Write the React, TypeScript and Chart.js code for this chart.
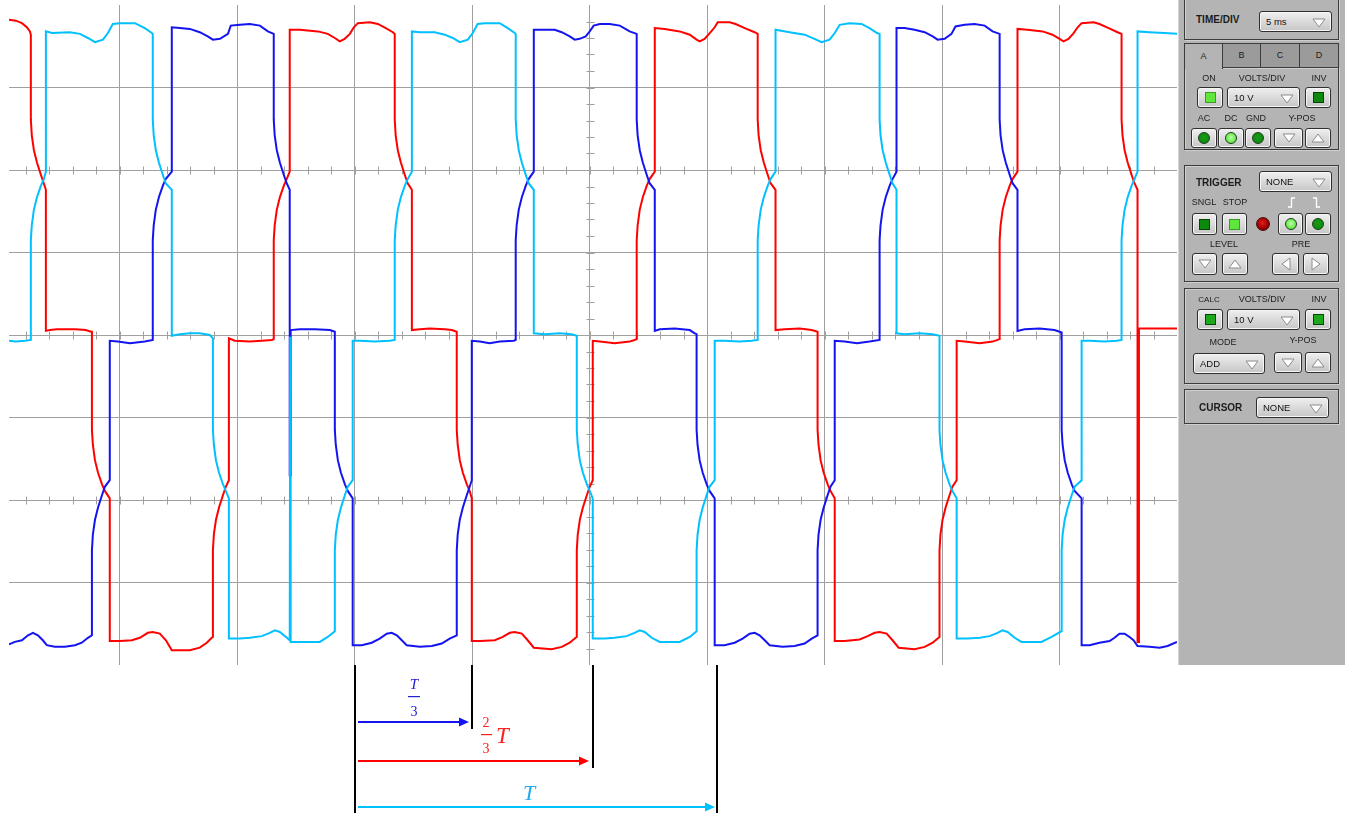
import React, { useEffect, useRef } from "react";
import { Chart, registerables } from "chart.js";

Chart.register(...registerables);

// ---------- data (time in ms, voltage in V; 5 ms/div, 10 V/div) ----------
const timeGrid = [5, 10, 15, 20, 25, 30, 35, 40, 45];
const voltGrid = [-30, -20, -10, 0, 10, 20, 30];
const tickedRows = [20, 0, -20];
const markerTimes = [15.0, 20.0, 25.15, 30.4];

const redPhase: [number, number][] = [
  [0.28, 38.2], [0.57, 38.1], [0.83, 37.8], [1.04, 37.3], [1.17, 36.8], [1.21, 36.4],
  [1.21, 26.1], [1.25, 24.2], [1.34, 22.4], [1.47, 20.9], [1.64, 19.4], [1.76, 18.4], [1.85, 17.6], [1.85, 0.5],
  [2.02, 0.6], [2.32, 0.7], [3.09, 0.7], [3.55, 0.6], [3.77, 0.4], [3.81, 0.4],
  [3.81, -11.5], [3.85, -13.3], [3.94, -15.2], [4.07, -16.7], [4.24, -18.1], [4.36, -18.9], [4.57, -19.8], [4.57, -37.1],
  [5.0, -37.1], [5.51, -37.0], [5.85, -36.7], [6.19, -36.1], [6.4, -36.0], [6.7, -36.2], [6.96, -37.0], [7.21, -38.2], [7.98, -38.2], [8.4, -37.9], [8.7, -37.3], [8.91, -36.7], [8.96, -36.6],
  [8.96, -26.1], [9.0, -24.2], [9.09, -22.4], [9.22, -20.9], [9.39, -19.4], [9.51, -18.4], [9.64, -17.6], [9.64, -0.4],
  [9.89, -0.7], [10.53, -0.8], [11.04, -0.7], [11.47, -0.6], [11.55, -0.5],
  [11.55, 11.5], [11.59, 13.3], [11.68, 15.2], [11.81, 16.7], [11.98, 18.1], [12.1, 18.9], [12.23, 19.8], [12.23, 37.0],
  [12.66, 37.0], [13.43, 36.8], [13.85, 36.5], [14.15, 36.0], [14.36, 35.6], [14.57, 35.9], [14.79, 36.5], [14.96, 37.3], [15.13, 37.8], [15.64, 37.9], [15.98, 37.7], [16.32, 37.2], [16.62, 36.7], [16.7, 36.5],
  [16.7, 26.1], [16.74, 24.2], [16.83, 22.4], [16.96, 20.9], [17.13, 19.4], [17.25, 18.4], [17.43, 17.6], [17.43, 0.6],
  [17.77, 0.7], [18.19, 0.8], [18.83, 0.7], [19.13, 0.6], [19.34, 0.4],
  [19.34, -11.5], [19.38, -13.3], [19.47, -15.2], [19.6, -16.7], [19.77, -18.1], [19.89, -18.9], [19.98, -19.8], [19.98, -37.1],
  [20.32, -37.1], [20.96, -37.0], [21.3, -36.6], [21.6, -36.1], [21.81, -36.0], [22.11, -36.2], [22.36, -37.0], [22.62, -37.9], [23.38, -38.1], [23.81, -37.8], [24.15, -37.3], [24.4, -36.7], [24.45, -36.6],
  [24.45, -26.1], [24.49, -24.2], [24.58, -22.4], [24.71, -20.9], [24.88, -19.4], [25.0, -18.4], [25.13, -17.6], [25.13, -0.7],
  [25.43, -0.8], [26.06, -1.0], [26.7, -0.8], [26.91, -0.6], [27.0, -0.5],
  [27.0, 11.5], [27.04, 13.3], [27.13, 15.2], [27.26, 16.7], [27.43, 18.1], [27.55, 18.9], [27.77, 19.8], [27.77, 37.2],
  [28.19, 37.1], [28.83, 36.8], [29.26, 36.4], [29.55, 35.8], [29.68, 35.6], [29.89, 35.9], [30.11, 36.6], [30.32, 37.3], [30.45, 37.9], [30.96, 37.9], [31.21, 37.7], [31.6, 37.2], [32.02, 36.7], [32.15, 36.5],
  [32.15, 26.1], [32.19, 24.2], [32.28, 22.4], [32.41, 20.9], [32.58, 19.4], [32.7, 18.4], [32.91, 17.6], [32.91, 0.6],
  [33.3, 0.7], [33.94, 0.8], [34.45, 0.6], [34.7, 0.4],
  [34.7, -11.5], [34.74, -13.3], [34.83, -15.2], [34.96, -16.7], [35.13, -18.1], [35.25, -18.9], [35.43, -19.8], [35.43, -37.1],
  [35.85, -37.1], [36.49, -36.9], [36.83, -36.5], [37.13, -36.1], [37.34, -36.0], [37.64, -36.2], [37.89, -37.0], [38.15, -37.9], [38.83, -38.1], [39.26, -37.8], [39.6, -37.3], [39.85, -36.7], [39.89, -36.6],
  [39.89, -26.1], [39.93, -24.2], [40.02, -22.4], [40.15, -20.9], [40.32, -19.4], [40.44, -18.4], [40.62, -17.6], [40.62, -0.7],
  [40.96, -0.8], [41.6, -1.0], [42.15, -0.8], [42.45, -0.5],
  [42.45, 11.5], [42.49, 13.3], [42.58, 15.2], [42.71, 16.7], [42.88, 18.1], [43.0, 18.9], [43.21, 19.8], [43.21, 37.1],
  [43.64, 37.0], [44.28, 36.8], [44.7, 36.4], [45.0, 35.9], [45.17, 35.6], [45.38, 35.9], [45.6, 36.6], [45.77, 37.3], [45.94, 37.8], [46.45, 37.9], [46.7, 37.7], [47.09, 37.2], [47.47, 36.7], [47.64, 36.5],
  [47.64, 26.1], [47.68, 24.2], [47.77, 22.4], [47.9, 20.9], [48.07, 19.4], [48.19, 18.4], [48.32, 17.6], [48.32, -37.2], [48.38, -37.2], [48.38, 0.8],
  [48.83, 0.8], [49.47, 0.8], [50.0, 0.8],
];

const cyanPhase: [number, number][] = [
  [0.28, -0.7], [0.57, -0.8], [0.96, -0.7], [1.21, -0.6],
  [1.21, 11.5], [1.25, 13.3], [1.34, 15.2], [1.47, 16.7], [1.64, 18.1], [1.76, 18.9], [1.85, 19.8], [1.85, 36.8],
  [2.11, 36.6], [2.87, 36.7], [3.3, 36.5], [3.64, 36.0], [3.94, 35.5], [4.28, 35.8], [4.49, 36.6], [4.7, 37.7], [5.0, 37.8], [5.64, 37.8], [6.06, 37.2], [6.36, 36.6], [6.4, 36.5],
  [6.4, 26.1], [6.44, 24.2], [6.53, 22.4], [6.66, 20.9], [6.83, 19.4], [6.95, 18.4], [7.21, 17.6], [7.21, -0.1],
  [7.55, 0.1], [7.98, 0.2], [8.4, 0.2], [8.83, 0.0], [8.96, -0.4],
  [8.96, -11.5], [9.0, -13.3], [9.09, -15.2], [9.22, -16.7], [9.39, -18.1], [9.51, -18.9], [9.64, -19.8], [9.64, -36.8],
  [10.11, -36.8], [10.53, -36.7], [11.04, -36.5], [11.38, -36.1], [11.6, -35.8], [11.81, -36.0], [12.11, -36.7], [12.23, -37.0], [12.25, -0.2], [12.27, -37.2],
  [12.66, -37.2], [13.51, -37.2], [13.85, -36.6], [14.15, -35.9],
  [14.15, -26.1], [14.19, -24.2], [14.28, -22.4], [14.41, -20.9], [14.58, -19.4], [14.7, -18.4], [14.91, -17.6], [14.91, -0.7],
  [15.21, -0.7], [15.85, -0.8], [16.49, -0.7], [16.7, -0.6],
  [16.7, 11.5], [16.74, 13.3], [16.83, 15.2], [16.96, 16.7], [17.13, 18.1], [17.25, 18.9], [17.43, 19.8], [17.43, 36.8],
  [17.77, 36.7], [18.4, 36.7], [18.83, 36.4], [19.17, 36.0], [19.47, 35.5], [19.81, 35.8], [20.02, 36.6], [20.23, 37.7], [20.53, 37.8], [21.17, 37.8], [21.51, 37.2], [21.81, 36.6], [21.85, 36.5],
  [21.85, 26.1], [21.89, 24.2], [21.98, 22.4], [22.11, 20.9], [22.28, 19.4], [22.4, 18.4], [22.62, 17.6], [22.62, 0.2],
  [23.09, 0.1], [23.72, 0.2], [24.23, 0.1], [24.45, -0.1],
  [24.45, -11.5], [24.49, -13.3], [24.58, -15.2], [24.71, -16.7], [24.88, -18.1], [25.0, -18.9], [25.13, -19.8], [25.13, -36.8],
  [25.64, -36.8], [26.06, -36.7], [26.57, -36.5], [26.91, -36.1], [27.13, -35.8], [27.34, -36.0], [27.64, -36.7], [27.98, -37.2], [28.83, -37.2], [29.26, -36.6], [29.55, -35.9],
  [29.55, -26.1], [29.59, -24.2], [29.68, -22.4], [29.81, -20.9], [29.98, -19.4], [30.1, -18.4], [30.32, -17.6], [30.32, -0.7],
  [30.74, -0.7], [31.38, -0.8], [31.89, -0.7], [32.15, -0.6],
  [32.15, 11.5], [32.19, 13.3], [32.28, 15.2], [32.41, 16.7], [32.58, 18.1], [32.7, 18.9], [32.91, 19.8], [32.91, 37.0],
  [33.51, 36.7], [34.15, 36.4], [34.57, 35.9], [34.87, 35.5], [35.21, 35.8], [35.43, 36.6], [35.64, 37.6], [36.06, 37.8], [36.57, 37.7], [36.91, 37.2], [37.23, 36.6], [37.34, 36.5],
  [37.34, 26.1], [37.38, 24.2], [37.47, 22.4], [37.6, 20.9], [37.77, 19.4], [37.89, 18.4], [38.06, 17.6], [38.06, 0.2],
  [38.4, 0.1], [39.04, 0.2], [39.6, 0.1], [39.89, -0.1],
  [39.89, -11.5], [39.93, -13.3], [40.02, -15.2], [40.15, -16.7], [40.32, -18.1], [40.44, -18.9], [40.62, -19.8], [40.62, -36.8],
  [41.09, -36.8], [41.6, -36.7], [42.02, -36.5], [42.36, -36.1], [42.57, -35.8], [42.79, -36.0], [43.09, -36.7], [43.38, -37.2], [44.23, -37.2], [44.66, -36.6], [45.09, -35.9],
  [45.09, -26.1], [45.13, -24.2], [45.22, -22.4], [45.35, -20.9], [45.52, -19.4], [45.64, -18.4], [45.94, -17.6], [45.94, -0.7],
  [46.28, -0.7], [46.91, -0.8], [47.43, -0.7], [47.64, -0.6],
  [47.64, 11.5], [47.68, 13.3], [47.77, 15.2], [47.9, 16.7], [48.07, 18.1], [48.19, 18.9], [48.32, 19.8], [48.32, 36.8],
  [48.83, 36.7], [49.47, 36.6], [50.0, 36.5],
];

const bluePhase: [number, number][] = [
  [0.28, -37.5], [0.53, -37.2], [0.83, -37.0], [1.09, -36.4], [1.3, -36.1], [1.51, -36.4], [1.72, -37.0], [1.89, -37.6], [2.23, -37.8], [2.66, -37.8], [3.09, -37.6], [3.38, -37.3], [3.64, -36.7], [3.81, -36.4],
  [3.81, -26.1], [3.85, -24.2], [3.94, -22.4], [4.07, -20.9], [4.24, -19.4], [4.36, -18.4], [4.57, -17.6], [4.57, -0.7],
  [4.91, -0.8], [5.43, -1.0], [6.06, -0.8], [6.4, -0.6],
  [6.4, 11.5], [6.44, 13.3], [6.53, 15.2], [6.66, 16.7], [6.83, 18.1], [6.95, 18.9], [7.21, 19.8], [7.21, 37.3],
  [7.55, 37.2], [7.98, 37.1], [8.4, 36.7], [8.74, 36.2], [8.96, 35.8], [9.26, 35.9], [9.6, 36.5], [9.72, 37.5], [10.11, 37.6], [10.53, 37.7], [10.96, 37.5], [11.3, 36.8], [11.55, 36.5],
  [11.55, 26.1], [11.59, 24.2], [11.68, 22.4], [11.81, 20.9], [11.98, 19.4], [12.1, 18.4], [12.23, 17.6], [12.23, -17.0], [12.27, -17.0], [12.27, 0.6],
  [12.66, 0.7], [13.3, 0.7], [13.94, 0.6], [14.15, 0.4],
  [14.15, -11.5], [14.19, -13.3], [14.28, -15.2], [14.41, -16.7], [14.58, -18.1], [14.7, -18.9], [14.91, -19.8], [14.91, -37.6],
  [15.3, -37.6], [15.72, -37.3], [16.06, -36.8], [16.36, -36.2], [16.57, -36.1], [16.79, -36.4], [17.0, -37.0], [17.21, -37.6], [17.77, -37.8], [18.28, -37.7], [18.7, -37.4], [19.04, -36.8], [19.34, -36.4],
  [19.34, -26.1], [19.38, -24.2], [19.47, -22.4], [19.6, -20.9], [19.77, -19.4], [19.89, -18.4], [19.98, -17.6], [19.98, -0.7],
  [20.32, -0.8], [20.74, -1.0], [21.17, -0.8], [21.77, -0.7], [21.85, -0.6],
  [21.85, 11.5], [21.89, 13.3], [21.98, 15.2], [22.11, 16.7], [22.28, 18.1], [22.4, 18.9], [22.62, 19.8], [22.62, 37.0],
  [23.51, 37.0], [23.81, 36.7], [24.15, 36.2], [24.36, 35.8], [24.57, 35.9], [24.83, 36.2], [25.0, 36.8], [25.17, 37.5], [25.43, 37.7], [25.85, 37.7], [26.28, 37.5], [26.7, 36.8], [27.0, 36.5],
  [27.0, 26.1], [27.04, 24.2], [27.13, 22.4], [27.26, 20.9], [27.43, 19.4], [27.55, 18.4], [27.77, 17.6], [27.77, 0.5],
  [27.98, 0.7], [28.62, 0.8], [29.26, 0.6], [29.47, 0.2], [29.55, 0.1],
  [29.55, -11.5], [29.59, -13.3], [29.68, -15.2], [29.81, -16.7], [29.98, -18.1], [30.1, -18.9], [30.32, -19.8], [30.32, -37.6],
  [30.74, -37.6], [31.17, -37.3], [31.51, -36.8], [31.81, -36.2], [32.02, -36.1], [32.23, -36.4], [32.45, -37.0], [32.66, -37.6], [33.21, -37.8], [33.72, -37.7], [34.15, -37.4], [34.45, -36.8], [34.7, -36.4],
  [34.7, -26.1], [34.74, -24.2], [34.83, -22.4], [34.96, -20.9], [35.13, -19.4], [35.25, -18.4], [35.43, -17.6], [35.43, -0.7],
  [35.85, -0.8], [36.38, -1.0], [36.91, -0.8], [37.34, -0.6],
  [37.34, 11.5], [37.38, 13.3], [37.47, 15.2], [37.6, 16.7], [37.77, 18.1], [37.89, 18.9], [38.06, 19.8], [38.06, 37.2],
  [38.4, 37.2], [38.83, 37.0], [39.26, 36.7], [39.6, 36.2], [39.81, 35.8], [40.11, 35.9], [40.4, 36.5], [40.57, 37.4], [40.96, 37.6], [41.38, 37.7], [41.81, 37.5], [42.15, 36.8], [42.45, 36.5],
  [42.45, 26.1], [42.49, 24.2], [42.58, 22.4], [42.71, 20.9], [42.88, 19.4], [43.0, 18.4], [43.21, 17.6], [43.21, 0.5],
  [43.51, 0.7], [44.15, 0.8], [44.79, 0.6], [45.09, 0.3],
  [45.09, -11.5], [45.13, -13.3], [45.22, -15.2], [45.35, -16.7], [45.52, -18.1], [45.64, -18.9], [45.94, -19.8], [45.94, -37.6],
  [46.28, -37.6], [46.7, -37.3], [47.13, -37.1], [47.34, -36.7], [47.55, -36.2], [47.77, -36.2], [47.98, -36.6], [48.15, -37.0], [48.32, -37.7], [48.83, -37.8], [49.26, -37.9], [49.6, -37.7], [50.0, -37.2],
];

// ---------- styles ----------
const RED = "#ff0000";
const BLUE = "#1414f0";
const CYAN = "#00c0ff";
const GRID = "#a0a0a0";

const scopeTicks = {
  id: "scopeTicks",
  beforeDatasetsDraw(chart: any) {
    const { ctx, scales, chartArea } = chart;
    const x = scales.x;
    const y = scales.y;
    ctx.save();
    ctx.strokeStyle = GRID;
    ctx.lineWidth = 1;
    ctx.beginPath();
    for (const lv of tickedRows) {
      const py = Math.round(y.getPixelForValue(lv)) + 0.5;
      for (let t = 1; t < 50; t++) {
        const px = Math.round(x.getPixelForValue(t)) + 0.5;
        if (px <= chartArea.left || px >= chartArea.right) continue;
        ctx.moveTo(px, py - 4);
        ctx.lineTo(px, py + 4);
      }
    }
    const cx = Math.round(x.getPixelForValue(25)) + 0.5;
    for (let v = -38; v <= 38; v += 2) {
      const py = Math.round(y.getPixelForValue(v)) + 0.5;
      ctx.moveTo(cx - 4, py);
      ctx.lineTo(cx + 4, py);
    }
    ctx.stroke();
    ctx.restore();
  },
};

function arrow(ctx: CanvasRenderingContext2D, x0: number, x1: number, y: number, color: string) {
  ctx.strokeStyle = color;
  ctx.fillStyle = color;
  ctx.lineWidth = 2;
  ctx.beginPath();
  ctx.moveTo(x0, y);
  ctx.lineTo(x1 - 8, y);
  ctx.stroke();
  ctx.beginPath();
  ctx.moveTo(x1, y);
  ctx.lineTo(x1 - 10, y - 4.5);
  ctx.lineTo(x1 - 10, y + 4.5);
  ctx.closePath();
  ctx.fill();
}

const annotate = {
  id: "annotate",
  afterDraw(chart: any) {
    const { ctx, scales } = chart;
    const x = scales.x;
    const px = markerTimes.map((t) => Math.round(x.getPixelForValue(t)));
    const ends = [813, 729, 768, 813];
    ctx.save();
    ctx.strokeStyle = "#000";
    ctx.lineWidth = 2;
    px.forEach((p, i) => {
      ctx.beginPath();
      ctx.moveTo(p, 665);
      ctx.lineTo(p, ends[i]);
      ctx.stroke();
    });
    arrow(ctx, px[0] + 3, px[1] - 3, 722, BLUE);
    arrow(ctx, px[0] + 3, px[2] - 4, 761, RED);
    arrow(ctx, px[0] + 3, px[3] - 2, 807, CYAN);

    const serif = '"Liberation Serif", "DejaVu Serif", serif';
    ctx.textAlign = "center";
    ctx.textBaseline = "alphabetic";
    // T/3
    ctx.fillStyle = "#2020d8";
    ctx.font = `italic 15px ${serif}`;
    ctx.fillText("T", px[0] + 59, 689);
    ctx.fillRect(px[0] + 53, 696, 12, 1.2);
    ctx.font = `14px ${serif}`;
    ctx.fillText("3", px[0] + 59, 716);
    // 2/3 T
    ctx.fillStyle = "#ff2020";
    ctx.font = `14px ${serif}`;
    ctx.fillText("2", px[0] + 131, 727);
    ctx.fillRect(px[0] + 126, 734, 11, 1.2);
    ctx.fillText("3", px[0] + 131, 753);
    ctx.font = `italic 23px ${serif}`;
    ctx.textAlign = "left";
    ctx.fillText("T", px[0] + 141, 743);
    // T
    ctx.fillStyle = "#1eaaf0";
    ctx.textAlign = "center";
    ctx.font = `italic 22px ${serif}`;
    ctx.fillText("T", px[0] + 174, 800);
    ctx.restore();
  },
};

// ---------- panel widgets ----------
const FONT = '"Liberation Sans", Arial, sans-serif';

const box = (l: number, t: number, w: number, h: number, extra: React.CSSProperties = {}): React.CSSProperties => ({
  position: "absolute",
  left: l,
  top: t,
  width: w,
  height: h,
  boxSizing: "border-box",
  ...extra,
});

const groupStyle: React.CSSProperties = {
  border: "1px solid #3c3c3c",
  boxShadow: "inset 1px 1px 0 #cfcfcf, 1px 1px 0 #cfcfcf",
};

const btnStyle: React.CSSProperties = {
  background: "linear-gradient(#efefef, #c6c6c6)",
  border: "1px solid #2f2f2f",
  borderRadius: 3,
  boxShadow: "inset 0 0 0 1px #f6f6f6",
  display: "flex",
  alignItems: "center",
  justifyContent: "center",
};

function Btn({ l, t, w, h, children }: { l: number; t: number; w: number; h: number; children?: React.ReactNode }) {
  return <div style={box(l, t, w, h, btnStyle)}>{children}</div>;
}

function Sq({ c, b }: { c: string; b: string }) {
  return <div style={{ width: 11, height: 11, background: c, border: `1px solid ${b}`, boxSizing: "border-box" }} />;
}

function Led({ c, hi }: { c: string; hi: string }) {
  return (
    <div
      style={{
        width: 12,
        height: 12,
        borderRadius: "50%",
        background: `radial-gradient(circle at 50% 45%, ${hi} 0%, ${c} 75%)`,
        border: "1px solid #1d3d1d",
        boxSizing: "border-box",
      }}
    />
  );
}

function Tri({ dir }: { dir: "up" | "down" | "left" | "right" }) {
  const pts =
    dir === "down" ? "1,1 13,1 7,9" : dir === "up" ? "1,9 13,9 7,1" : dir === "left" ? "9,1 9,13 1,7" : "1,1 1,13 9,7";
  const w = dir === "up" || dir === "down" ? 14 : 10;
  const h = dir === "up" || dir === "down" ? 10 : 14;
  return (
    <svg width={w} height={h} style={{ display: "block" }}>
      <polygon points={pts} fill="#ffffff" stroke="#8c8c8c" strokeWidth="1" />
    </svg>
  );
}

function Drop({ l, t, w, h, text }: { l: number; t: number; w: number; h: number; text: string }) {
  return (
    <div
      style={box(l, t, w, h, {
        ...btnStyle,
        justifyContent: "flex-start",
        paddingLeft: 6,
        font: `9.5px ${FONT}`,
        color: "#111",
      })}
    >
      {text}
      <div style={{ position: "absolute", right: 5, top: (h - 10) / 2 }}>
        <Tri dir="down" />
      </div>
    </div>
  );
}

function Lbl({ cx, cy, text, size = 9, bold = false, left = false }: { cx: number; cy: number; text: string; size?: number; bold?: boolean; left?: boolean }) {
  return (
    <div
      style={{
        position: "absolute",
        left: left ? cx : cx - 40,
        width: left ? 100 : 80,
        top: cy - size * 0.62,
        textAlign: left ? "left" : "center",
        font: `${bold ? "bold " : ""}${size}px ${FONT}`,
        color: "#1c1c1c",
        lineHeight: `${size * 1.2}px`,
        whiteSpace: "nowrap",
      }}
    >
      {text}
    </div>
  );
}

function Edge({ rising }: { rising: boolean }) {
  return (
    <svg width={9} height={11} style={{ display: "block" }}>
      <path d={rising ? "M1 10 H4.5 V1 H8" : "M1 1 H4.5 V10 H8"} stroke="#ffffff" strokeWidth="1.3" fill="none" />
    </svg>
  );
}

const BRIGHT = "#5fe63c";
const BRIGHT_B = "#3a9a2a";
const DARK = "#0d8a0d";
const DARK_B = "#074407";
const MID = "#1ba81b";

function Panel() {
  const tab = (l: number, w: number, label: string, active: boolean) => (
    <div
      style={box(l, 43, w, active ? 26 : 25, {
        background: active ? "#b4b4b4" : "#9b9b9b",
        border: "1px solid #3c3c3c",
        borderBottom: active ? "none" : "1px solid #3c3c3c",
        font: `9px ${FONT}`,
        color: "#1c1c1c",
        display: "flex",
        alignItems: "center",
        justifyContent: "center",
        paddingBottom: 2,
        zIndex: 2,
      })}
    >
      {label}
    </div>
  );
  return (
    <>
      <div style={box(1178, 0, 167, 665, { background: "#b4b4b4", borderLeft: "1px solid #d6d6d6" })} />
      {/* TIME/DIV */}
      <div style={box(1184, -5, 155, 45, groupStyle)} />
      <Lbl cx={1196} cy={20} text="TIME/DIV" size={10} bold left />
      <Drop l={1259} t={11} w={73} h={21} text="5 ms" />
      {/* channel */}
      <div style={box(1184, 67, 155, 83, groupStyle)} />
      {tab(1184, 39, "A", true)}
      {tab(1222, 39, "B", false)}
      {tab(1260, 40, "C", false)}
      {tab(1299, 40, "D", false)}
      <Lbl cx={1209} cy={79} text="ON" />
      <Lbl cx={1262} cy={79} text="VOLTS/DIV" />
      <Lbl cx={1319} cy={79} text="INV" />
      <Btn l={1197} t={87} w={26} h={21}>
        <Sq c={BRIGHT} b={BRIGHT_B} />
      </Btn>
      <Drop l={1227} t={87} w={73} h={21} text="10 V" />
      <Btn l={1305} t={87} w={26} h={21}>
        <Sq c={DARK} b={DARK_B} />
      </Btn>
      <Lbl cx={1204} cy={119} text="AC" />
      <Lbl cx={1231} cy={119} text="DC" />
      <Lbl cx={1256} cy={119} text="GND" />
      <Lbl cx={1302} cy={119} text="Y-POS" />
      <Btn l={1191} t={128} w={26} h={20}>
        <Led c={DARK} hi="#1a9a1a" />
      </Btn>
      <Btn l={1218} t={128} w={26} h={20}>
        <Led c={BRIGHT} hi="#b8ffa8" />
      </Btn>
      <Btn l={1245} t={128} w={26} h={20}>
        <Led c={DARK} hi="#1a9a1a" />
      </Btn>
      <Btn l={1274} t={128} w={29} h={20}>
        <Tri dir="down" />
      </Btn>
      <Btn l={1305} t={128} w={26} h={20}>
        <Tri dir="up" />
      </Btn>
      {/* trigger */}
      <div style={box(1184, 165, 155, 117, groupStyle)} />
      <Lbl cx={1196} cy={183} text="TRIGGER" size={10} bold left />
      <Drop l={1259} t={171} w={73} h={21} text="NONE" />
      <Lbl cx={1204} cy={203} text="SNGL" />
      <Lbl cx={1235} cy={203} text="STOP" />
      <div style={box(1287, 197, 9, 11)}>
        <Edge rising />
      </div>
      <div style={box(1312, 197, 9, 11)}>
        <Edge rising={false} />
      </div>
      <Btn l={1192} t={213} w={25} h={22}>
        <Sq c={DARK} b={DARK_B} />
      </Btn>
      <Btn l={1222} t={213} w={25} h={22}>
        <Sq c={BRIGHT} b={BRIGHT_B} />
      </Btn>
      <div
        style={box(1256, 217, 14, 14, {
          borderRadius: "50%",
          background: "radial-gradient(circle at 45% 40%, #e02020 0%, #a00000 55%, #600000 100%)",
          border: "1px solid #4a1010",
        })}
      />
      <Btn l={1278} t={213} w={25} h={22}>
        <Led c={BRIGHT} hi="#b8ffa8" />
      </Btn>
      <Btn l={1305} t={213} w={26} h={22}>
        <Led c={DARK} hi="#1a9a1a" />
      </Btn>
      <Lbl cx={1224} cy={245} text="LEVEL" />
      <Lbl cx={1301} cy={245} text="PRE" />
      <Btn l={1192} t={253} w={25} h={22}>
        <Tri dir="down" />
      </Btn>
      <Btn l={1222} t={253} w={26} h={22}>
        <Tri dir="up" />
      </Btn>
      <Btn l={1272} t={253} w={27} h={22}>
        <Tri dir="left" />
      </Btn>
      <Btn l={1303} t={253} w={26} h={22}>
        <Tri dir="right" />
      </Btn>
      {/* calc */}
      <div style={box(1184, 288, 155, 96, groupStyle)} />
      <Lbl cx={1209} cy={300} text="CALC" size={8} />
      <Lbl cx={1262} cy={300} text="VOLTS/DIV" />
      <Lbl cx={1319} cy={300} text="INV" />
      <Btn l={1197} t={309} w={26} h={21}>
        <Sq c={MID} b={DARK_B} />
      </Btn>
      <Drop l={1227} t={309} w={73} h={21} text="10 V" />
      <Btn l={1305} t={309} w={26} h={21}>
        <Sq c={MID} b={DARK_B} />
      </Btn>
      <Lbl cx={1223} cy={343} text="MODE" />
      <Lbl cx={1303} cy={341} text="Y-POS" />
      <Drop l={1193} t={353} w={72} h={21} text="ADD" />
      <Btn l={1274} t={352} w={28} h={21}>
        <Tri dir="down" />
      </Btn>
      <Btn l={1305} t={352} w={26} h={21}>
        <Tri dir="up" />
      </Btn>
      {/* cursor */}
      <div style={box(1184, 389, 155, 35, groupStyle)} />
      <Lbl cx={1199} cy={408} text="CURSOR" size={10} bold left />
      <Drop l={1256} t={397} w={73} h={21} text="NONE" />
    </>
  );
}

export default function App() {
  const ref = useRef<HTMLCanvasElement | null>(null);

  useEffect(() => {
    if (!ref.current) return;
    const mk = (pts: [number, number][], color: string) => ({
      data: pts.map(([t, v]) => ({ x: t, y: v })),
      borderColor: color,
      backgroundColor: color,
      borderWidth: 2,
      showLine: true,
      pointRadius: 0,
      tension: 0,
      fill: false,
    });
    const chart = new Chart(ref.current, {
      type: "scatter",
      data: {
        datasets: [mk(cyanPhase, CYAN), mk(bluePhase, BLUE), mk(redPhase, RED)],
      },
      options: {
        responsive: false,
        animation: false,
        events: [],
        layout: { padding: { left: 9, right: 1, top: 5, bottom: 148 } },
        plugins: { legend: { display: false }, tooltip: { enabled: false } },
        scales: {
          x: {
            type: "linear",
            min: 0.28,
            max: 50,
            ticks: { display: false },
            grid: { color: GRID, drawTicks: false, lineWidth: 1 },
            border: { display: false },
            afterBuildTicks: (s: any) => {
              s.ticks = timeGrid.map((v) => ({ value: v }));
            },
          },
          y: {
            type: "linear",
            min: -40,
            max: 40,
            ticks: { display: false },
            grid: { color: GRID, drawTicks: false, lineWidth: 1 },
            border: { display: false },
            afterBuildTicks: (s: any) => {
              s.ticks = voltGrid.map((v) => ({ value: v }));
            },
          },
        },
      } as any,
      plugins: [scopeTicks, annotate],
    });
    return () => chart.destroy();
  }, []);

  return (
    <div style={{ position: "absolute", left: 0, top: 0, width: 1351, height: 813, background: "#ffffff", overflow: "hidden" }}>
      <canvas ref={ref} width={1178} height={813} style={{ position: "absolute", left: 0, top: 0, width: 1178, height: 813 }} />
      <Panel />
    </div>
  );
}
